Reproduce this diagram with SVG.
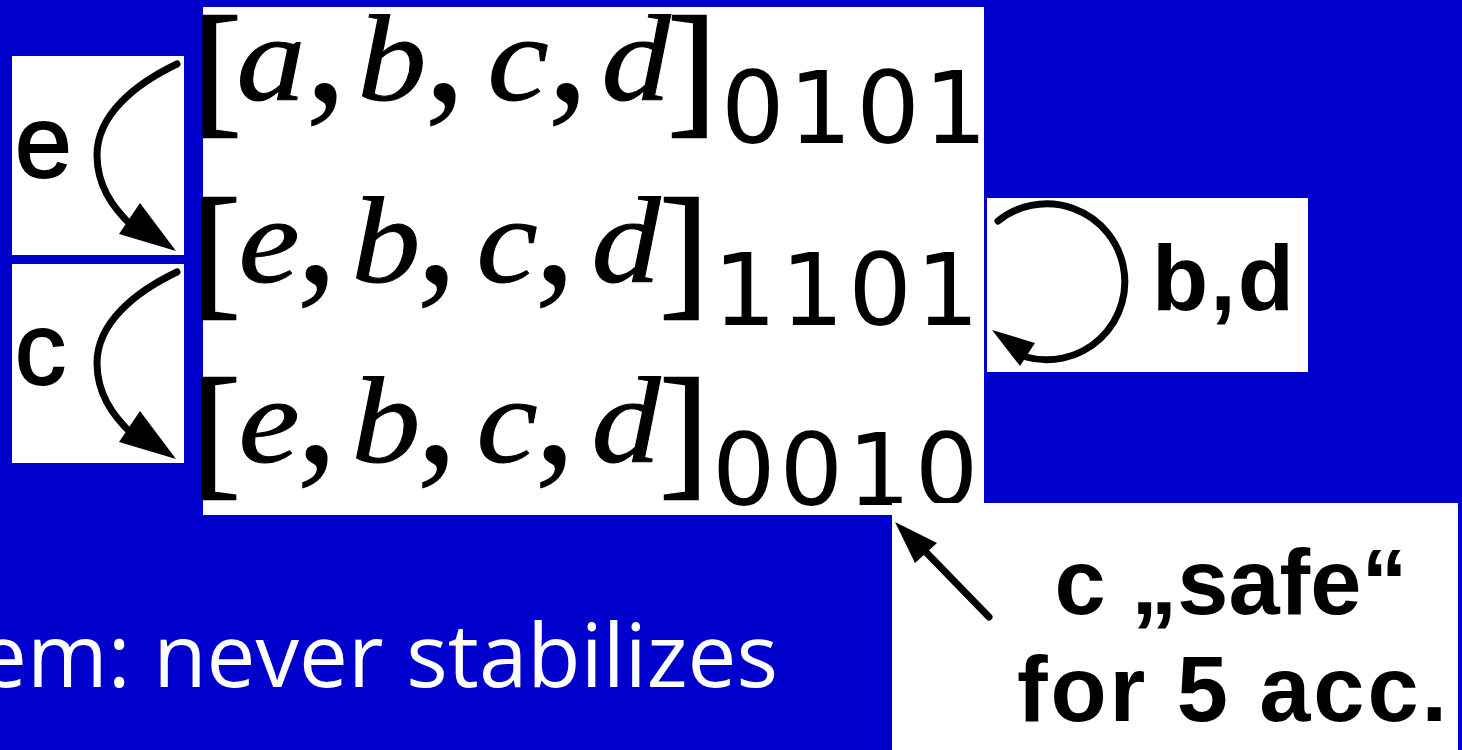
<svg xmlns="http://www.w3.org/2000/svg" width="1462" height="750" viewBox="0 0 1462 750">
<style>
.box{fill:#ffffff}
.mi{font-family:"Liberation Serif","Times New Roman",serif;font-style:italic;font-size:122px;fill:#000;stroke:#000;stroke-width:1px;text-anchor:middle}
.cm{font-family:"Liberation Serif","Times New Roman",serif;font-size:170px;fill:#000;text-anchor:middle}
.br{font-family:"Liberation Serif","Times New Roman",serif;font-size:146px;fill:#000;stroke:#000;stroke-width:2.5px;text-anchor:middle}
.sub{font-family:"DejaVu Sans",sans-serif;font-size:100px;letter-spacing:4px;fill:#000}
.lab{font-family:"Liberation Sans",Arial,sans-serif;font-size:102px;fill:#000;stroke:#000;stroke-width:2px}
.labb{font-family:"Liberation Sans",Arial,sans-serif;font-weight:bold;font-size:92px;fill:#000}
.cap{font-family:"Open Sans","DejaVu Sans",sans-serif;font-size:88px;fill:#ffffff}
.stroke{fill:none;stroke:#000;stroke-width:7;stroke-linecap:round}
.head{fill:#000}
</style>
<rect width="1462" height="750" fill="#0000CC"/>

<g id="formula">
<rect class="box" x="203" y="7" width="781" height="508"/>
<g id="row1">
<text class="br" x="217" y="117">[</text>
<text class="mi" transform="translate(271,100) scale(1.13,1)">a</text>
<text class="cm" x="326" y="100">,</text>
<text class="mi" transform="translate(392,100) scale(1.13,1)">b</text>
<text class="cm" x="445" y="100">,</text>
<text class="mi" transform="translate(518,100) scale(1.13,1)">c</text>
<text class="cm" x="568" y="100">,</text>
<text class="mi" transform="translate(636,100) scale(1.13,1)">d</text>
<text class="br" x="692" y="117">]</text>
<text class="sub" x="721" y="143">0101</text>
</g>
<g id="row2">
<text class="br" x="216" y="299">[</text>
<text class="mi" transform="translate(269,282) scale(1.13,1)">e</text>
<text class="cm" x="317" y="282">,</text>
<text class="mi" transform="translate(386,282) scale(1.13,1)">b</text>
<text class="cm" x="437" y="282">,</text>
<text class="mi" transform="translate(507,282) scale(1.13,1)">c</text>
<text class="cm" x="555" y="282">,</text>
<text class="mi" transform="translate(626,282) scale(1.13,1)">d</text>
<text class="br" x="684" y="299">]</text>
<text class="sub" x="713" y="325">1101</text>
</g>
<g id="row3">
<text class="br" x="216" y="479">[</text>
<text class="mi" transform="translate(269,462) scale(1.13,1)">e</text>
<text class="cm" x="317" y="462">,</text>
<text class="mi" transform="translate(386,462) scale(1.13,1)">b</text>
<text class="cm" x="437" y="462">,</text>
<text class="mi" transform="translate(507,462) scale(1.13,1)">c</text>
<text class="cm" x="555" y="462">,</text>
<text class="mi" transform="translate(626,462) scale(1.13,1)">d</text>
<text class="br" x="684" y="479">]</text>
<text class="sub" x="712" y="505">0010</text>
</g>
</g>

<g id="label-e">
<rect class="box" x="12" y="56" width="172" height="199"/>
<text class="lab" x="15" y="177">e</text>
</g>

<g id="label-c">
<rect class="box" x="12" y="264" width="172" height="199"/>
<text class="lab" x="15" y="384">c</text>
</g>

<g id="label-bd">
<rect class="box" x="987" y="198" width="321" height="174"/>
<text class="labb" x="1152" y="310" textLength="142" lengthAdjust="spacing">b,d</text>
</g>

<g id="note-safe">
<rect class="box" x="892" y="503" width="566" height="250"/>
<text class="labb" x="1231" y="614" text-anchor="middle">c „safe“</text>
<text class="labb" x="1232" y="721" text-anchor="middle" textLength="430" lengthAdjust="spacing">for 5 acc.</text>
</g>

<g id="caption">
<text class="cap" x="-22" y="687" textLength="800" lengthAdjust="spacingAndGlyphs">em: never stabilizes</text>
</g>

<g id="connectors">
<path class="stroke" d="M177,64 C135,84 97,115 97,155 C97,185 112,207 132,226"/>
<polygon class="head" points="140,203 119,234 176,251"/>
<path class="stroke" d="M177,272 C135,292 97,323 97,363 C97,393 112,415 132,434"/>
<polygon class="head" points="140,411 119,442 176,459"/>
<path class="stroke" d="M998,221 A78,78 0 1 1 1026,357"/>
<polygon class="head" points="992,330 1035,343 1020,366"/>
<path class="stroke" d="M989,617 L920,546"/>
<polygon class="head" points="895,522 937,543 915,563"/>
</g>
</svg>
